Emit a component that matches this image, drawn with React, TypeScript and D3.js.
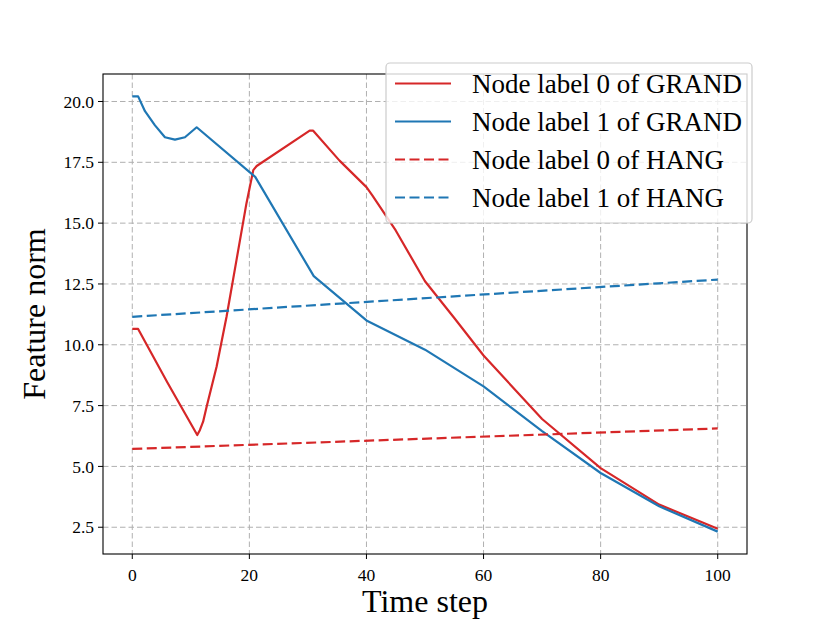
import * as d3 from "d3";
import React from "react";

// GRAND curves (time step, feature norm)
const redGrandT = [0, 1, 6, 11.1, 11.56, 12.1, 12.7, 14.4, 16.1, 17.8, 19.5, 20.67, 21.25, 30.3, 30.9, 35.4, 40, 41, 45, 50, 55, 60, 70, 80, 90, 100];
const redGrandV = [10.65, 10.65, 8.45, 6.29, 6.5, 6.84, 7.45, 9.1, 11.15, 13.48, 15.81, 17.18, 17.35, 18.8, 18.8, 17.57, 16.48, 16.14, 14.7, 12.61, 11.1, 9.56, 6.95, 4.93, 3.43, 2.44];

const blueGrandT = [0, 1, 2.17, 3.88, 5.58, 7.29, 9.0, 11.0, 21, 31, 40, 50, 60, 70, 80, 90, 100];
const blueGrandV = [20.21, 20.21, 19.6, 19.02, 18.53, 18.43, 18.53, 18.94, 16.9, 12.82, 11.0, 9.8, 8.29, 6.45, 4.73, 3.36, 2.32];

// HANG curves
const hangT = [0, 100];
const redHangV = [5.72, 6.56];
const blueHangV = [11.15, 12.68];

const xTicks = [0, 20, 40, 60, 80, 100];
const yTicks = [2.5, 5.0, 7.5, 10.0, 12.5, 15.0, 17.5, 20.0];

const legendLabels = [
  "Node label 0 of GRAND",
  "Node label 1 of GRAND",
  "Node label 0 of HANG",
  "Node label 1 of HANG",
];

const RED = "#d62728";
const BLUE = "#1f77b4";
const FONT = "'Liberation Serif', 'Times New Roman', serif";

const W = 830;
const H = 623;
const m = { left: 103, right: 747, top: 74, bottom: 554 };

export default function App() {
  const x = d3.scaleLinear().domain([-5, 105]).range([m.left, m.right]);
  const y = d3.scaleLinear().domain([1.4, 21.13]).range([m.bottom, m.top]);

  const line = d3
    .line<[number, number]>()
    .x((d) => x(d[0]))
    .y((d) => y(d[1]));

  const zip = (t: number[], v: number[]) => t.map((ti, i) => [ti, v[i]] as [number, number]);

  const series = [
    { pts: zip(redGrandT, redGrandV), color: RED, dash: null },
    { pts: zip(blueGrandT, blueGrandV), color: BLUE, dash: null },
    { pts: zip(hangT, redHangV), color: RED, dash: "10,4.5" },
    { pts: zip(hangT, blueHangV), color: BLUE, dash: "10,4.5" },
  ];

  const legend = { x: 386, y: 63, w: 366, h: 160, row0: 83.5, pitch: 38 };

  return (
    <svg
      width={W}
      height={H}
      style={{ position: "absolute", left: 0, top: 0, background: "#fff" }}
      fontFamily={FONT}
    >
      {/* grid */}
      <g stroke="#b0b0b0" strokeWidth={1} strokeDasharray="5.5,3">
        {xTicks.map((t) => (
          <line key={"gx" + t} x1={x(t)} x2={x(t)} y1={m.top} y2={m.bottom} />
        ))}
        {yTicks.map((t) => (
          <line key={"gy" + t} x1={m.left} x2={m.right} y1={y(t)} y2={y(t)} />
        ))}
      </g>

      {/* series */}
      {series.map((s, i) => (
        <path
          key={i}
          d={line(s.pts) ?? ""}
          fill="none"
          stroke={s.color}
          strokeWidth={2.2}
          strokeDasharray={s.dash ?? undefined}
          strokeLinejoin="round"
        />
      ))}

      {/* frame */}
      <rect
        x={m.left}
        y={m.top}
        width={m.right - m.left}
        height={m.bottom - m.top}
        fill="none"
        stroke="#000"
        strokeWidth={1.1}
      />

      {/* x axis */}
      {xTicks.map((t) => (
        <g key={"xt" + t} transform={`translate(${x(t)},${m.bottom})`}>
          <line y2={5} stroke="#000" />
          <text y={27} textAnchor="middle" fontSize={17.5}>
            {t}
          </text>
        </g>
      ))}
      {/* y axis */}
      {yTicks.map((t) => (
        <g key={"yt" + t} transform={`translate(${m.left},${y(t)})`}>
          <line x2={-5} stroke="#000" />
          <text x={-9} dy="0.35em" textAnchor="end" fontSize={17.5}>
            {t.toFixed(1)}
          </text>
        </g>
      ))}

      <text x={(m.left + m.right) / 2} y={612} textAnchor="middle" fontSize={32}>
        Time step
      </text>
      <text
        transform={`translate(45,${(m.top + m.bottom) / 2}) rotate(-90)`}
        textAnchor="middle"
        fontSize={32}
      >
        Feature norm
      </text>

      {/* legend */}
      <rect
        x={legend.x}
        y={legend.y}
        width={legend.w}
        height={legend.h}
        rx={4}
        fill="#fff"
        fillOpacity={0.8}
        stroke="#cccccc"
        strokeWidth={1.2}
      />
      {legendLabels.map((lab, i) => {
        const s = series[i];
        const cy = legend.row0 + i * legend.pitch;
        return (
          <g key={lab}>
            <line
              x1={395}
              x2={451}
              y1={cy}
              y2={cy}
              stroke={s.color}
              strokeWidth={2.2}
              strokeDasharray={s.dash ?? undefined}
            />
            <text x={472} y={cy} dy="0.35em" fontSize={27}>
              {lab}
            </text>
          </g>
        );
      })}
    </svg>
  );
}
